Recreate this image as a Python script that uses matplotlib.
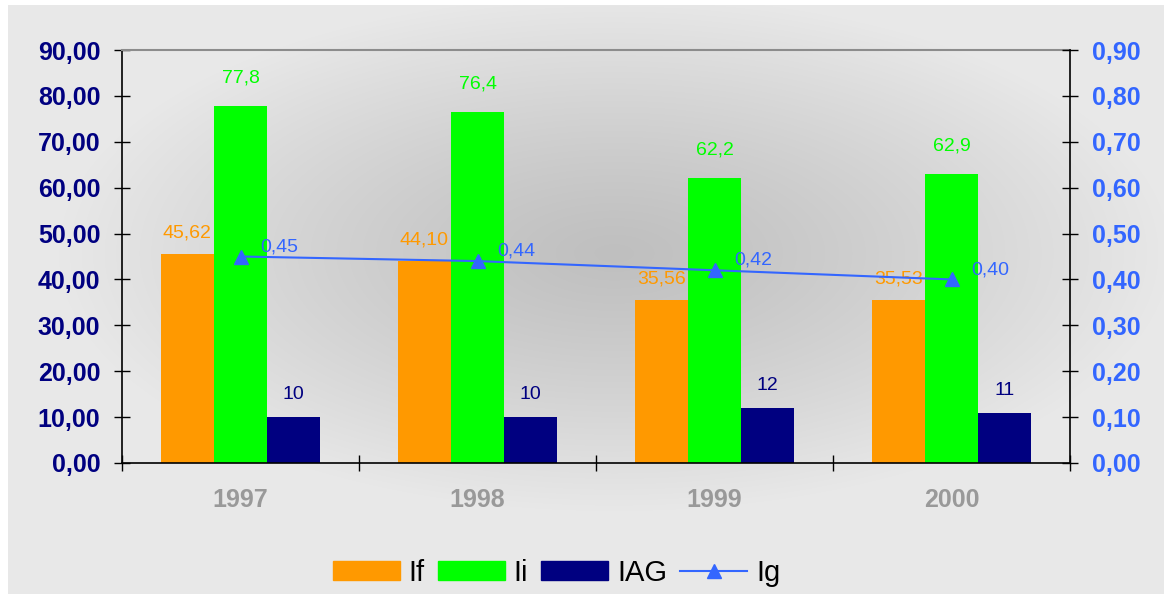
import numpy as np
import matplotlib
matplotlib.use('Agg')
import matplotlib.pyplot as plt
from matplotlib.patches import Patch
from matplotlib.lines import Line2D
from matplotlib.ticker import FuncFormatter

plt.rcParams['font.family'] = ['Liberation Sans', 'DejaVu Sans']

years = ['1997', '1998', '1999', '2000']
i_f = [45.62, 44.10, 35.56, 35.53]
i_i = [77.8, 76.4, 62.2, 62.9]
iag = [10, 10, 12, 11]
i_g = [0.45, 0.44, 0.42, 0.40]

ORANGE = '#FF9900'
GREEN = '#00FF00'
NAVY = '#000080'
BLUE = '#3366FF'

def comma(v, dec):
  # decimal comma
  return (('%.' + str(dec) + 'f') % v).replace('.', ',')

W, H = 1164, 594
fig = plt.figure(figsize=(W/100., H/100.), dpi=100)
fig.patch.set_facecolor('white')

# soft radial shading behind the chart
bg = fig.add_axes([0, 0, 1, 1], zorder=-10)
bg.set_xlim(0, W)
bg.set_ylim(H, 0)
bg.axis('off')
yy, xx = np.mgrid[0:H, 0:W]
r = np.sqrt(((xx - 610) / 560.) ** 2 + ((yy - 250) / 260.) ** 2)
r = np.clip(r, 0, 1) ** 1.2
shade = 0.75 + (0.91 - 0.75) * r
img = np.dstack([shade, shade, shade])
bg.imshow(img, extent=(8, W, H, 5), aspect='auto', interpolation='bilinear')

ax = fig.add_axes([122/W, 131/H, 948/W, 413/H])
ax.patch.set_alpha(0)
x = np.arange(len(years))
bw = 0.224

ax.bar(x - bw, i_f, bw, color=ORANGE, zorder=2)
ax.bar(x, i_i, bw, color=GREEN, zorder=2)
ax.bar(x + bw, iag, bw, color=NAVY, zorder=2)

for xi, v in zip(x, i_f):
  ax.annotate(comma(v, 2), (xi - bw, v), xytext=(0, 9), textcoords='offset points',
              ha='center', va='bottom', color=ORANGE, fontsize=14)
for xi, v in zip(x, i_i):
  ax.annotate(comma(v, 1), (xi, v), xytext=(0, 14), textcoords='offset points',
              ha='center', va='bottom', color=GREEN, fontsize=14)
for xi, v in zip(x, iag):
  ax.annotate(comma(v, 0), (xi + bw, v), xytext=(0, 10), textcoords='offset points',
              ha='center', va='bottom', color=NAVY, fontsize=14)

ax.set_xlim(-0.5, 3.5)
ax.set_ylim(0, 90)
ax.set_yticks(np.arange(0, 91, 10))
ax.yaxis.set_major_formatter(FuncFormatter(lambda v, p: comma(v, 2)))
ax.set_xticks(np.arange(-0.5, 3.6, 1))
ax.set_xticklabels([])
ax.set_xticks(x, minor=True)
ax.set_xticklabels(years, minor=True)
ax.tick_params(axis='x', which='minor', length=0, pad=18, labelsize=18, labelcolor='#999999')
for t in ax.get_xticklabels(minor=True):
  t.set_fontweight('bold')
ax.tick_params(axis='x', which='major', direction='inout', length=11, width=1)
ax.tick_params(axis='y', direction='inout', length=11, width=1, labelsize=18,
               labelcolor=NAVY, pad=10)
for t in ax.get_yticklabels():
  t.set_fontweight('bold')

for s in ['left', 'bottom']:
  ax.spines[s].set_color('black')
  ax.spines[s].set_linewidth(1.2)
ax.spines['right'].set_visible(False)
ax.spines['top'].set_color('#8c8c8c')
ax.spines['top'].set_linewidth(1.5)

ax2 = ax.twinx()
ax2.set_ylim(0, 0.9)
ax2.set_yticks(np.arange(0, 0.91, 0.1))
ax2.yaxis.set_major_formatter(FuncFormatter(lambda v, p: comma(v, 2)))
ax2.tick_params(axis='y', direction='inout', length=11, width=1, labelsize=18,
                labelcolor=BLUE, pad=10)
for t in ax2.get_yticklabels():
  t.set_fontweight('bold')
for s in ['left', 'top', 'bottom']:
  ax2.spines[s].set_visible(False)
ax2.spines['right'].set_color('black')
ax2.spines['right'].set_linewidth(1.2)

ax2.plot(x, i_g, color=BLUE, lw=1.5, marker='^', markersize=10, zorder=3)
for xi, v in zip(x, i_g):
  ax2.annotate(comma(v, 2), (xi, v), xytext=(14, 1), textcoords='offset points',
               ha='left', va='bottom', color=BLUE, fontsize=14)

handles = [Patch(color=ORANGE), Patch(color=GREEN), Patch(color=NAVY),
           Line2D([], [], color=BLUE, lw=1.5, marker='^', markersize=10)]
fig.legend(handles, ['If', 'Ii', 'IAG', 'Ig'], loc='center', bbox_to_anchor=(0.478, 21/H),
           ncol=4, frameon=False, fontsize=21, handlelength=2.3, handleheight=0.6,
           handletextpad=0.3, columnspacing=0.45)

fig.savefig('out.png', dpi=100)
